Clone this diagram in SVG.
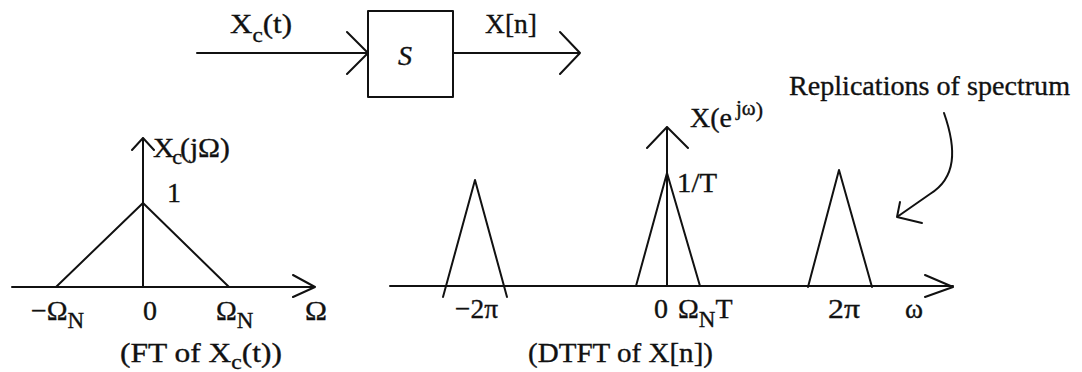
<svg xmlns="http://www.w3.org/2000/svg" width="1082" height="372" viewBox="0 0 1082 372">
<style>
.ln{fill:none;stroke:#111;stroke-width:2;stroke-linecap:round;stroke-linejoin:round}
.t{font-family:"Liberation Serif","Times New Roman",serif;font-size:28px;fill:#111;stroke:#111;stroke-width:0.35}
.sub{font-size:21px}
.n{font-size:23px}
</style>
<rect width="1082" height="372" fill="#fff"/>
<g id="block-S">
<rect class="ln" x="368" y="11" width="85" height="86"/>
<text class="t" x="405" y="65" text-anchor="middle" font-style="italic" font-size="31">S</text>
</g>
<g id="connectors">
<path class="ln" d="M197,53 H368 M347,32 L368,53 L347,74"/>
<path class="ln" d="M453,53 H580 M560,32 L580,53 L560,74"/>
<path class="ln" d="M944,113 C957,150 956,178 930,194 L897,217 M900,202 L897,217 L922,223"/>
</g>
<g id="labels-top">
<text class="t" x="230" y="33" textLength="62" lengthAdjust="spacingAndGlyphs">X<tspan class="sub" dy="9">c</tspan><tspan dy="-9">(t)</tspan></text>
<text class="t" x="485" y="33" textLength="52" lengthAdjust="spacingAndGlyphs">X[n]</text>
</g>
<g id="plot-ft">
<path class="ln" d="M12,287 H315 M293,275 L315,287 L293,297"/>
<path class="ln" d="M143,287 V138 M132,150 L143,138 L154,150"/>
<path class="ln" d="M56,287 L143,203 L229,287"/>
<text class="t" x="153" y="157" textLength="77" lengthAdjust="spacingAndGlyphs">X<tspan class="sub" dx="-2" dy="7">c</tspan><tspan dx="-2" dy="-7">(jΩ)</tspan></text>
<text class="t" x="167" y="202">1</text>
<text class="t" x="31" y="320">−Ω<tspan class="n" dy="8">N</tspan></text>
<text class="t" x="150" y="320" text-anchor="middle">0</text>
<text class="t" x="216" y="320">Ω<tspan class="n" dy="8">N</tspan></text>
<text class="t" x="305" y="320" textLength="22" lengthAdjust="spacingAndGlyphs">Ω</text>
<text class="t" x="120" y="362" textLength="162" lengthAdjust="spacingAndGlyphs">(FT of  X<tspan class="sub" dy="7">c</tspan><tspan dy="-7">(t))</tspan></text>
</g>
<g id="plot-dtft">
<path class="ln" d="M390,286 H953 M925,275 L953,287 L925,297"/>
<path class="ln" d="M667,286 V127 M647,148 L667,127 L688,148"/>
<path class="ln" d="M636,286 L667,173 L700,286"/>
<path class="ln" d="M443,297 L475,180 L507,297"/>
<path class="ln" d="M808,287 L839,170 L872,287"/>
<text class="t" x="690" y="127">X(e<tspan font-size="21" dx="4" dy="-12">jω</tspan><tspan font-size="22" dy="2">)</tspan></text>
<text class="t" x="677" y="192" textLength="40" lengthAdjust="spacingAndGlyphs">1/T</text>
<text class="t" x="455" y="318" textLength="43" lengthAdjust="spacingAndGlyphs">−2π</text>
<text class="t" x="661" y="318" text-anchor="middle">0</text>
<text class="t" x="678" y="318">Ω<tspan class="n" dy="9">N</tspan><tspan dy="-9">T</tspan></text>
<text class="t" x="828" y="318" textLength="32" lengthAdjust="spacingAndGlyphs">2π</text>
<text class="t" x="905" y="318" textLength="18" lengthAdjust="spacingAndGlyphs">ω</text>
<text class="t" x="528" y="362" textLength="185" lengthAdjust="spacingAndGlyphs">(DTFT of X[n])</text>
</g>
<g id="annotation">
<text class="t" x="789" y="95" textLength="281" lengthAdjust="spacingAndGlyphs">Replications of spectrum</text>
</g>
</svg>
